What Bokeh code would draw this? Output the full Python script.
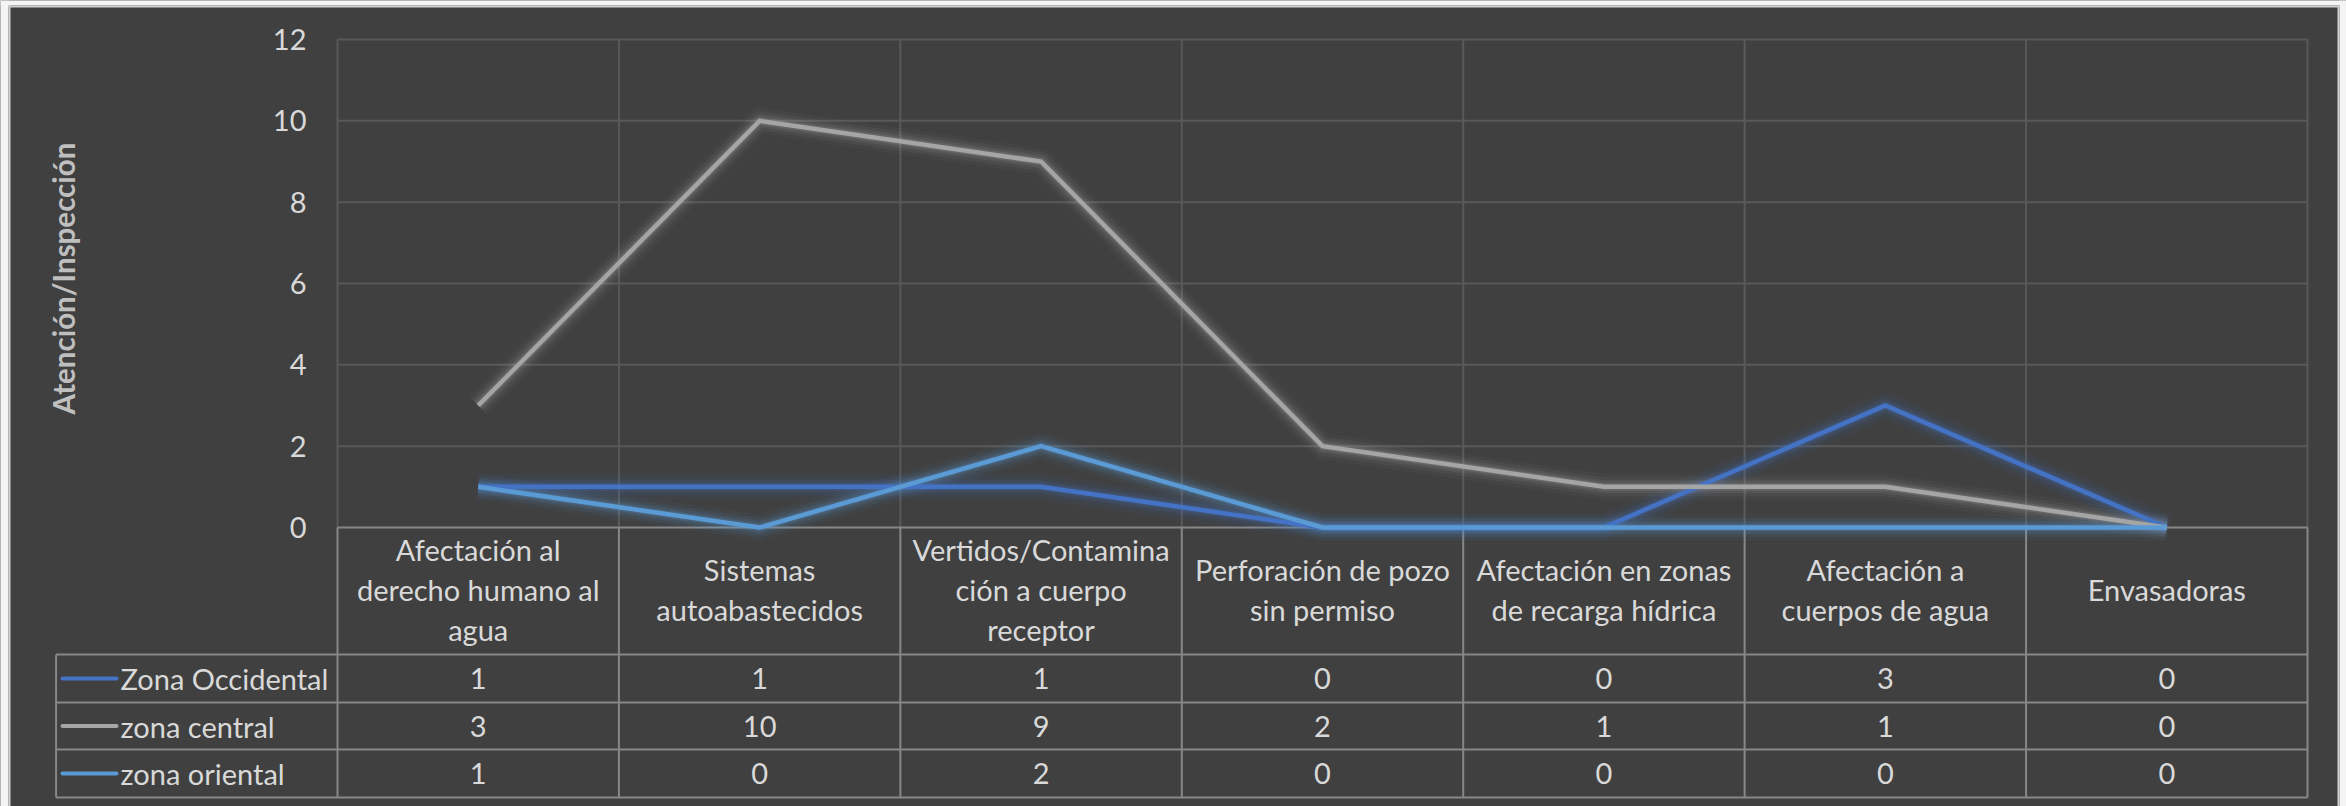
import math
from bokeh.plotting import figure
from bokeh.models import Range1d
from bokeh.embed import file_html
from bokeh.resources import INLINE
from bokeh.core.properties import value

# ---------------- data ----------------
categories = [
    "Afectación al derecho humano al agua",
    "Sistemas autoabastecidos",
    "Vertidos/Contaminación a cuerpo receptor",
    "Perforación de pozo sin permiso",
    "Afectación en zonas de recarga hídrica",
    "Afectación a cuerpos de agua",
    "Envasadoras",
]
category_labels = [
    "Afectación al\nderecho humano al\nagua",
    "Sistemas\nautoabastecidos",
    "Vertidos/Contamina\nción a cuerpo\nreceptor",
    "Perforación de pozo\nsin permiso",
    "Afectación en zonas\nde recarga hídrica",
    "Afectación a\ncuerpos de agua",
    "Envasadoras",
]
series_names = ["Zona Occidental", "zona central", "zona oriental"]
zona_occidental = [1, 1, 1, 0, 0, 3, 0]
zona_central = [3, 10, 9, 2, 1, 1, 0]
zona_oriental = [1, 0, 2, 0, 0, 0, 0]
y_ticks = [0, 2, 4, 6, 8, 10, 12]
y_title = "Atención/Inspección"

series_values = [zona_occidental, zona_central, zona_oriental]
series_colors = ["#4472C4", "#A5A5A5", "#5B9BD5"]

# ---------------- layout (pixel geometry of the picture) ----------------
BG = "#404040"
GRID = "#595959"
TABLE = "#878787"
TXT = "#d9d9d9"
EDGE = "#d0d0d0"
OUTSIDE = "#f4f4f4"
FONT = "Lato"
FS = "29px"

W, H = 2346, 806
PLOT_L, PLOT_R = 337, 2307
PLOT_T, PLOT_B = 39, 527
NCAT = len(categories)
COLW = (PLOT_R - PLOT_L) / NCAT
YMAX = y_ticks[-1]
PX = (PLOT_B - PLOT_T) / YMAX


def vx(px):
    return (px - PLOT_L) / COLW


def vy(py):
    return (PLOT_B - py) / PX


ROW_LINES = [654, 702, 749, 797]
CH_L, CH_T, CH_R = 8, 5, 2339   # outer chart frame

p = figure(width=W, height=H, output_backend="svg", toolbar_location=None,
           x_range=Range1d(vx(0), vx(W)), y_range=Range1d(vy(H), vy(0)),
           x_axis_location=None, y_axis_location=None,
           min_border_left=0, min_border_right=0, min_border_top=0, min_border_bottom=0)
p.background_fill_color = BG
p.border_fill_color = BG
p.outline_line_color = None
p.grid.visible = False

# ---- area outside the chart frame ----
p.quad(left=[vx(0), vx(0), vx(CH_R)], right=[vx(CH_L), vx(W), vx(W)],
       bottom=[vy(H), vy(CH_T), vy(H)], top=[vy(0), vy(0), vy(0)],
       fill_color=OUTSIDE, line_color=None)
p.segment(x0=[vx(CH_L + 1), vx(CH_L), vx(CH_R - 1)],
          y0=[vy(H), vy(CH_T + 1), vy(H)],
          x1=[vx(CH_L + 1), vx(CH_R), vx(CH_R - 1)],
          y1=[vy(CH_T), vy(CH_T + 1), vy(CH_T)],
          line_color=EDGE, line_width=2)

# ---- gridlines of plot area ----
gy = [t for t in y_ticks if t > 0]
p.segment(x0=[0] * len(gy), y0=gy, x1=[NCAT] * len(gy), y1=gy,
          line_color=GRID, line_width=2)
gx = list(range(NCAT + 1))
p.segment(x0=gx, y0=[0] * len(gx), x1=gx, y1=[YMAX] * len(gx),
          line_color=GRID, line_width=2)

# ---- data table lines ----
p.segment(x0=[0], y0=[0], x1=[NCAT], y1=[0], line_color=TABLE, line_width=2)
p.segment(x0=gx, y0=[0] * len(gx), x1=gx, y1=[vy(ROW_LINES[-1])] * len(gx),
          line_color=TABLE, line_width=2)
p.segment(x0=[-1], y0=[vy(ROW_LINES[0])], x1=[-1], y1=[vy(ROW_LINES[-1])],
          line_color=TABLE, line_width=2)
rl = [vy(r) for r in ROW_LINES]
p.segment(x0=[-1] * len(rl), y0=rl, x1=[NCAT] * len(rl), y1=rl,
          line_color=TABLE, line_width=2)

# ---- series lines with glow ----
xs = [i + 0.5 for i in range(NCAT)]
for vals, col in zip(series_values, series_colors):
    for w, a in [(26, 0.05), (19, 0.08), (13, 0.12), (8, 0.2)]:
        p.line(xs, vals, line_color=col, line_width=w, line_alpha=a, line_join="round")
for vals, col in zip(series_values, series_colors):
    p.line(xs, vals, line_color=col, line_width=4.5, line_join="miter")

# ---- y tick labels and title ----
p.text(x=[vx(306)] * len(y_ticks), y=y_ticks, text=[str(t) for t in y_ticks],
       text_align="right", text_baseline="middle", text_font=value(FONT),
       text_font_size=FS, text_color=TXT)
p.text(x=[vx(63)], y=[vy(278)], text=[y_title], angle=math.pi / 2,
       text_align="center", text_baseline="middle", text_font=value(FONT),
       text_font_style="bold", text_font_size="29.5px", text_color="#bfbfbf")

# ---- header text ----
p.text(x=xs, y=[vy(589)] * NCAT, text=category_labels, text_align="center",
       text_baseline="middle", text_font=value(FONT), text_font_size=FS,
       text_color=TXT, text_line_height=1.13)

# ---- table rows ----
for r, (name, vals, col) in enumerate(zip(series_names, series_values, series_colors)):
    yc = vy((ROW_LINES[r] + ROW_LINES[r + 1]) / 2)
    p.text(x=xs, y=[yc] * NCAT, text=[str(v) for v in vals], text_align="center",
           text_baseline="middle", text_font=value(FONT), text_font_size=FS, text_color=TXT)
    p.segment(x0=[vx(62)], y0=[yc], x1=[vx(116)], y1=[yc], line_color=col,
              line_width=4, line_cap="round")
    p.text(x=[vx(120)], y=[yc], text=[name], text_align="left", text_baseline="middle",
           text_font=value(FONT), text_font_size=FS, text_color=TXT)

open("out.html", "w").write(file_html(p, INLINE))
